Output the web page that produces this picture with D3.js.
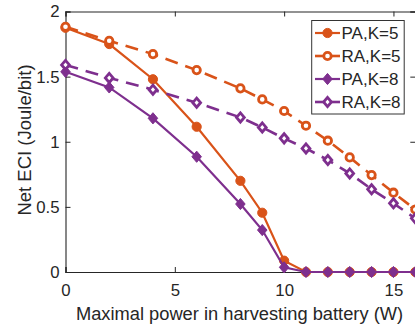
<!DOCTYPE html>
<html>
<head>
<meta charset="utf-8">
<script src="https://cdn.jsdelivr.net/npm/d3@7"></script>
<style>
  body { margin: 0; background: #fff; }
  text { font-family: "Liberation Sans", Arial, sans-serif; fill: #262626; }
</style>
</head>
<body>
<svg id="chart" width="415" height="328"></svg>
<script>
const W = 415, H = 328;

// data
const xVals = [0, 2, 4, 6, 8, 9, 10, 11, 12, 13, 14, 15, 16];
const paK5 = [1.875, 1.75, 1.48, 1.115, 0.70, 0.455, 0.087, 0, 0, 0, 0, 0, 0];
const raK5 = [1.883, 1.775, 1.673, 1.55, 1.41, 1.325, 1.236, 1.123, 1.008, 0.88, 0.744, 0.609, 0.48];
const paK8 = [1.537, 1.417, 1.18, 0.885, 0.522, 0.322, 0.036, 0, 0, 0, 0, 0, 0];
const raK8 = [1.59, 1.49, 1.40, 1.30, 1.187, 1.11, 1.026, 0.949, 0.86, 0.757, 0.635, 0.527, 0.412];
const seriesNames = ["PA,K=5", "RA,K=5", "PA,K=8", "RA,K=8"];
const xTicks = [0, 5, 10, 15];
const yTicks = [0, 0.5, 1, 1.5, 2];

const ORANGE = "#D95319", PURPLE = "#7E2F8E", AX = "#262626";

const series = [
  {name: seriesNames[0], vals: paK5, color: ORANGE, dash: null, marker: "circle", open: false},
  {name: seriesNames[1], vals: raK5, color: ORANGE, dash: "13,8", marker: "circle", open: true},
  {name: seriesNames[2], vals: paK8, color: PURPLE, dash: null, marker: "diamond", open: false},
  {name: seriesNames[3], vals: raK8, color: PURPLE, dash: "13,8", marker: "diamond", open: true}
];

const mLeft = 65.5, mRight = 415.3, mTop = 11.5, mBottom = 272;
const x = d3.scaleLinear().domain([0, 16]).range([mLeft, mRight]);
const y = d3.scaleLinear().domain([0, 2]).range([mBottom, mTop]);

const svg = d3.select("#chart");

// axes box and ticks
const axG = svg.append("g");
axG.append("g").attr("transform", `translate(0,${mBottom})`)
  .call(d3.axisBottom(x).tickValues(xTicks).tickSize(-5).tickPadding(12).tickFormat(d3.format("d")))
  .call(g => { g.select(".domain").attr("stroke", AX); g.selectAll(".tick line").attr("stroke", AX);
    g.selectAll("text").attr("font-size", 16.8).attr("fill", AX).attr("dy", "0.71em"); });
axG.append("g").attr("transform", `translate(${mLeft},0)`)
  .call(d3.axisLeft(y).tickValues(yTicks).tickSize(-5).tickPadding(6).tickFormat(d => d))
  .call(g => { g.select(".domain").attr("stroke", AX); g.selectAll(".tick line").attr("stroke", AX);
    g.selectAll("text").attr("font-size", 16.8).attr("fill", AX); });
axG.append("g").attr("transform", `translate(0,${mTop})`)
  .call(d3.axisTop(x).tickValues(xTicks).tickSize(-5).tickFormat(""))
  .call(g => { g.select(".domain").attr("stroke", AX); g.selectAll(".tick line").attr("stroke", AX); });
axG.append("g").attr("transform", `translate(${mRight},0)`)
  .call(d3.axisRight(y).tickValues(yTicks).tickSize(-5).tickFormat(""))
  .call(g => { g.select(".domain").attr("stroke", AX); g.selectAll(".tick line").attr("stroke", AX); });
axG.selectAll(".domain").attr("stroke-width", 1.1);

// axis labels
svg.append("text").attr("x", 239.5).attr("y", 320)
  .attr("text-anchor", "middle").attr("font-size", 18.3)
  .text("Maximal power in harvesting battery (W)");
svg.append("text").attr("transform", `translate(31,140) rotate(-90)`)
  .attr("text-anchor", "middle").attr("font-size", 18.5)
  .text("Net ECI (Joule/bit)");

const line = d3.line().x((d, i) => x(xVals[i])).y(d => y(d));

function drawMarker(g, type, open, color, cx, cy) {
  if (type === "circle") {
    g.append("circle").attr("cx", cx).attr("cy", cy).attr("r", open ? 3.7 : 4.6)
      .attr("fill", open ? "#fff" : color).attr("stroke", color).attr("stroke-width", open ? 2.8 : 1);
  } else {
    const s = open ? 4.6 : 5.6;
    g.append("path").attr("d", `M${cx},${cy - s}L${cx + s * 0.85},${cy}L${cx},${cy + s}L${cx - s * 0.85},${cy}Z`)
      .attr("fill", open ? "#fff" : color).attr("stroke", color).attr("stroke-width", open ? 2.8 : 1)
      .attr("stroke-linejoin", "miter");
  }
}

const plotG = svg.append("g");
series.forEach(s => {
  plotG.append("path").datum(s.vals).attr("d", line)
    .attr("fill", "none").attr("stroke", s.color).attr("stroke-width", s.dash ? 2.6 : 2.2)
    .attr("stroke-dasharray", s.dash);
  const mg = plotG.append("g");
  s.vals.forEach((v, i) => drawMarker(mg, s.marker, s.open, s.color, x(xVals[i]), y(v)));
});

// legend
const lg = svg.append("g");
lg.append("rect").attr("x", 311.7).attr("y", 20.5).attr("width", 92.5).attr("height", 93.5)
  .attr("fill", "#fff").attr("stroke", "#333").attr("stroke-width", 1);
series.forEach((s, i) => {
  const yy = 33 + i * 23;
  lg.append("line").attr("x1", 315).attr("x2", 340).attr("y1", yy).attr("y2", yy)
    .attr("stroke", s.color).attr("stroke-width", s.dash ? 2.6 : 2.2);
  drawMarker(lg, s.marker, s.open, s.color, 327.5, yy);
  lg.append("text").attr("x", 341.5).attr("y", yy).attr("dy", "0.36em")
    .attr("font-size", 17).text(s.name);
});
</script>
</body>
</html>
